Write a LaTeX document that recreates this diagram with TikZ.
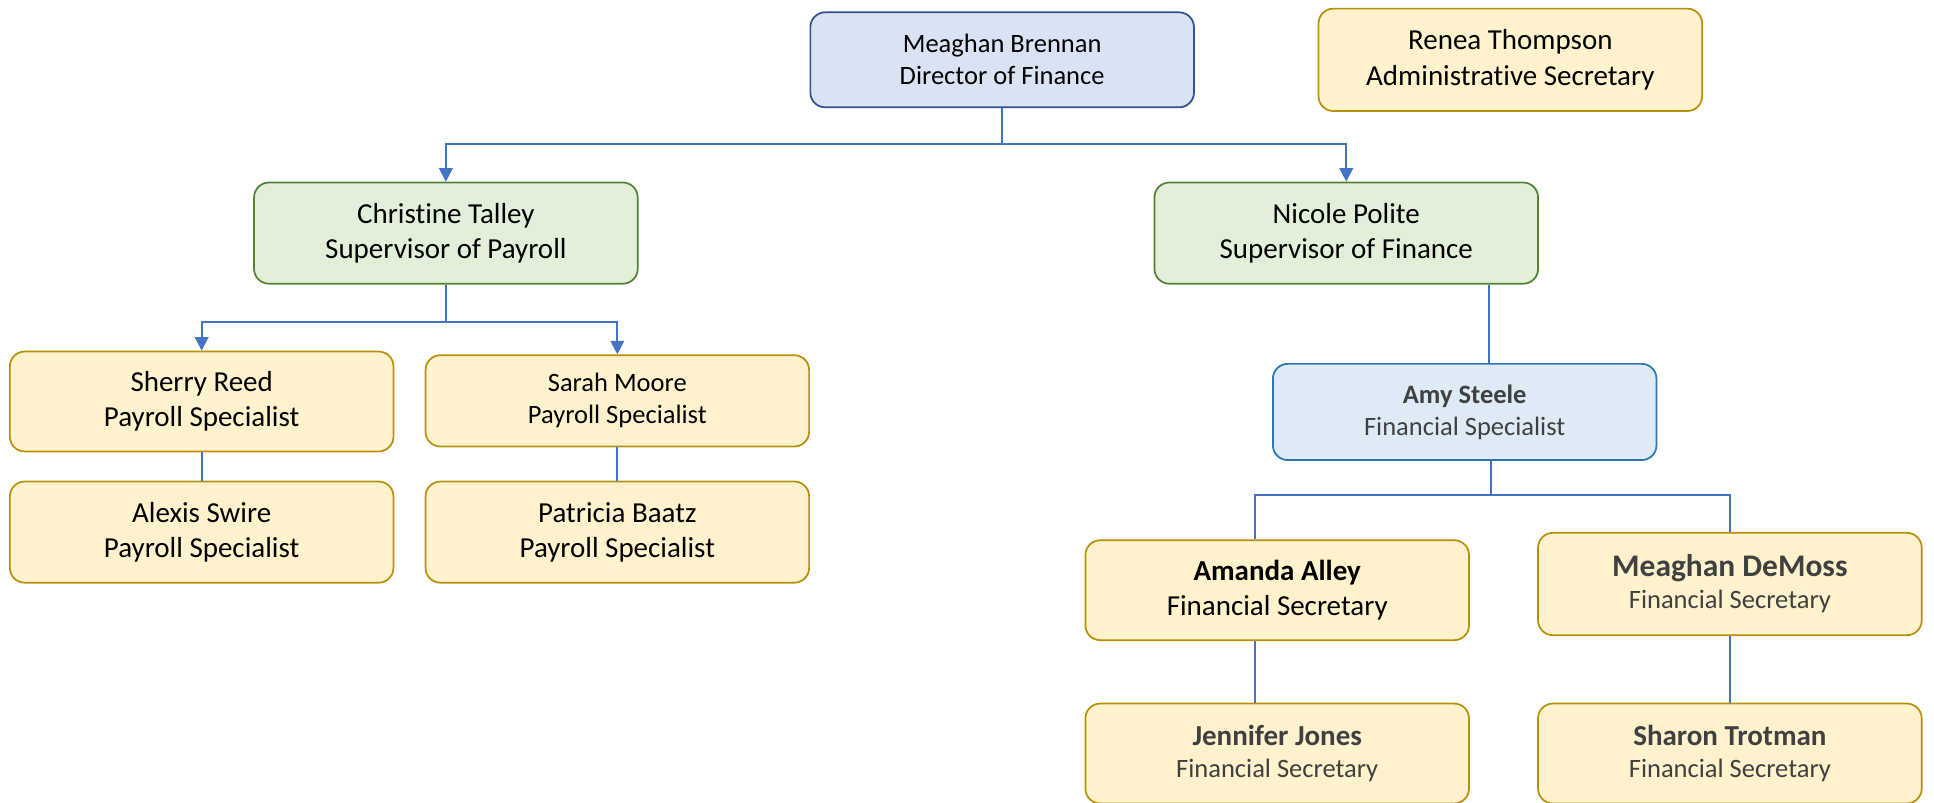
\documentclass[tikz,border=0pt]{standalone}
\usepackage{fontspec}
\setmainfont[Ligatures=NoCommon]{Carlito}
\usetikzlibrary{arrows.meta, positioning}
\definecolor{LinkBlue}{HTML}{4472C4}
\definecolor{TopFill}{HTML}{DAE3F3}
\definecolor{TopLine}{HTML}{2F528F}
\definecolor{GoldFill}{HTML}{FFF2CC}
\definecolor{GoldLine}{HTML}{B8900A}
\definecolor{LeafFill}{HTML}{E2F0D9}
\definecolor{LeafLine}{HTML}{548235}
\definecolor{SkyFill}{HTML}{DEEBF7}
\definecolor{SkyLine}{HTML}{2E75B6}
\definecolor{DarkText}{HTML}{404040}
\newcommand{\orgsmall}{\fontsize{21.5}{26}\selectfont}
\newcommand{\orglarge}{\fontsize{23.5}{28.5}\selectfont}
\newcommand{\orghuge}{\fontsize{25.5}{29}\selectfont}
\begin{document}
\begin{tikzpicture}[x=1pt, y=1pt,
    card/.style={draw, rounded corners=12pt, line width=1.4pt, minimum width=311pt, align=center, font=\orglarge},
    topcard/.style={card, fill=TopFill, draw=TopLine},
    goldcard/.style={card, fill=GoldFill, draw=GoldLine},
    leafcard/.style={card, fill=LeafFill, draw=LeafLine},
    skycard/.style={card, fill=SkyFill, draw=SkyLine},
    link/.style={draw=LinkBlue, line width=1.6pt},
    arrow/.style={link, -{Triangle[length=11pt, width=11pt]}}]
    \useasboundingbox (0,0) rectangle (1568,-651);

    % top row
    \node[topcard, minimum height=77pt, font=\orgsmall] (director) at (812.5,-48.5) {Meaghan Brennan\\Director of Finance};
    \node[goldcard, minimum height=83pt] (renea) at (1224.5,-48.5) {Renea Thompson\\Administrative Secretary};

    % supervisors
    \node[leafcard, minimum height=82pt] (christine) at (361.5,-189) {Christine Talley\\Supervisor of Payroll};
    \node[leafcard, minimum height=82pt] (nicole) at (1091.5,-189) {Nicole Polite\\Supervisor of Finance};

    % payroll side
    \node[goldcard, minimum height=81pt] (sherry) at (163.5,-325.5) {Sherry Reed\\Payroll Specialist};
    \node[goldcard, minimum height=74pt, font=\orgsmall] (sarah) at (500.5,-325) {Sarah Moore\\Payroll Specialist};
    \node[goldcard, minimum height=82pt, below=23pt of sherry] (alexis) {Alexis Swire\\Payroll Specialist};
    \node[goldcard, minimum height=82pt, below=27pt of sarah] (patricia) {Patricia Baatz\\Payroll Specialist};

    % finance side
    \node[skycard, minimum height=78pt, font=\orgsmall, text=DarkText] (amy) at (1187.5,-334) {\textbf{Amy Steele}\\Financial Specialist};
    \node[goldcard, minimum height=81pt] (amanda) at (1035.5,-478.5) {\textbf{Amanda Alley}\\Financial Secretary};
    \node[goldcard, minimum height=83pt, font=\orgsmall, text=DarkText] (demoss) at (1402.5,-473.5) {{\orghuge\bfseries Meaghan DeMoss}\\Financial Secretary};
    \node[goldcard, minimum height=81pt, font=\orgsmall, text=DarkText, below=50pt of amanda] (jennifer) {{\orglarge\bfseries Jennifer Jones}\\Financial Secretary};
    \node[goldcard, minimum height=81pt, font=\orgsmall, text=DarkText, below=54pt of demoss] (sharon) {{\orglarge\bfseries Sharon Trotman}\\Financial Secretary};

    % connectors
    \draw[arrow] (director.south) -- ++(0,-29) -| (christine.north);
    \draw[arrow] (director.south) -- ++(0,-29) -| (nicole.north);
    \draw[arrow] (christine.south) -- ++(0,-30) -| (sherry.north);
    \draw[arrow] (christine.south) -- ++(0,-30) -| (sarah.north);
    \draw[link] (sherry) -- (alexis);
    \draw[link] (sarah) -- (patricia);
    \draw[link] ([xshift=20pt]amy.north |- nicole.south) -- ([xshift=20pt]amy.north);
    \draw[link] ([xshift=21pt]amy.south) -- ++(0,-28) -| ([xshift=-18pt]amanda.north);
    \draw[link] ([xshift=21pt]amy.south) -- ++(0,-28) -| (demoss.north);
    \draw[link] ([xshift=-18pt]amanda.south) -- ([xshift=-18pt]jennifer.north);
    \draw[link] (demoss) -- (sharon);
\end{tikzpicture}
\end{document}
